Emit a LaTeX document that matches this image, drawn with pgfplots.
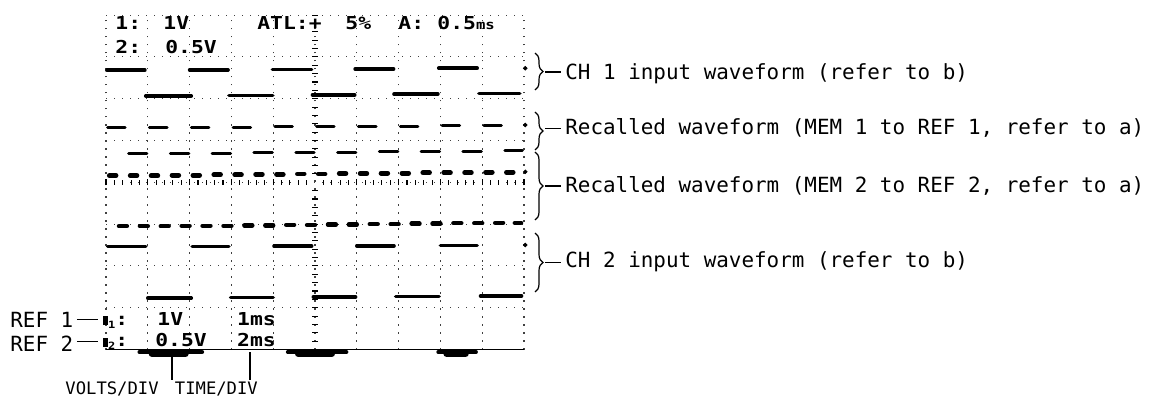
\documentclass[border=0pt]{standalone}
\usepackage{pgfplots}
\pgfplotsset{compat=1.18}
\usepackage{fontspec}
\usetikzlibrary{decorations.pathreplacing}
\newfontfamily\ann{DejaVu Sans Mono}
\newfontfamily\lcd[FakeStretch=1.2]{DejaVu Sans Mono Bold}
\tikzset{
  trace/.style={black, line width=1.8pt, line cap=round, no marks},
  lcdtext/.style={anchor=base west, inner sep=0pt, font=\lcd\fontsize{8.9}{10}\selectfont},
  anntext/.style={anchor=base west, inner sep=0pt, font=\ann\fontsize{10.45}{12}\selectfont},
  smalltext/.style={anchor=base west, inner sep=0pt, font=\ann\fontsize{8.6}{10}\selectfont},
}
\begin{document}
\begin{tikzpicture}
% screen: 10 x 8 divisions, 1 div = 20.9pt
\begin{axis}[
    width=209pt, height=167.2pt, scale only axis,
    xmin=0, xmax=10, ymin=0, ymax=8,
    clip=false,
    axis x line*=bottom, axis y line*=left,
    x axis line style={-, line width=0.9pt},
    y axis line style={draw=none},
    xtick={0,...,10}, ytick={0,...,8},
    xticklabels={}, yticklabels={},
    tick style={draw=none},
    xmajorgrids, ymajorgrids,
    major grid style={black!75, line width=0.55pt, dash pattern=on 0.7pt off 3.3pt},
    unbounded coords=jump,
]
% CH 1 input
\addplot[trace] coordinates {
 (0.02,6.68) (0.93,6.68) (0.93,nan)
 (0.95,6.07) (2.04,6.07) (2.04,nan)
 (2.0,6.69) (2.92,6.69) (2.92,nan)
 (2.94,6.08) (3.99,6.08) (3.99,nan)
 (3.98,6.70) (4.92,6.70) (4.92,nan)
 (4.94,6.09) (5.95,6.09) (5.95,nan)
 (5.96,6.71) (6.88,6.71) (6.88,nan)
 (6.89,6.11) (7.94,6.11) (7.94,nan)
 (7.96,6.73) (8.88,6.73) (8.88,nan)
 (8.92,6.12) (9.9,6.12)
};
% MEM 1 -> REF 1
\addplot[trace, line width=1.5pt] coordinates {
 (0.04,5.31)(0.46,5.31)(0.46,nan)
 (1.04,5.31)(1.46,5.31)(1.46,nan)
 (2.04,5.32)(2.46,5.32)(2.46,nan)
 (3.04,5.32)(3.46,5.32)(3.46,nan)
 (4.04,5.33)(4.46,5.33)(4.46,nan)
 (5.04,5.33)(5.46,5.33)(5.46,nan)
 (6.04,5.34)(6.46,5.34)(6.46,nan)
 (7.04,5.34)(7.46,5.34)(7.46,nan)
 (8.04,5.35)(8.46,5.35)(8.46,nan)
 (9.04,5.35)(9.46,5.35)
};
\addplot[trace, line width=1.5pt] coordinates {
 (0.54,4.69)(0.98,4.69)(0.98,nan)
 (1.54,4.69)(1.98,4.69)(1.98,nan)
 (2.54,4.70)(2.98,4.70)(2.98,nan)
 (3.54,4.71)(3.98,4.71)(3.98,nan)
 (4.54,4.72)(4.98,4.72)(4.98,nan)
 (5.54,4.72)(5.98,4.72)(5.98,nan)
 (6.54,4.73)(6.98,4.73)(6.98,nan)
 (7.54,4.74)(7.98,4.74)(7.98,nan)
 (8.54,4.74)(8.98,4.74)(8.98,nan)
 (9.54,4.75)(9.96,4.75)
};
% MEM 2 -> REF 2
\addplot[trace, line width=2.4pt] coordinates {
 (0.08,4.16)(0.24,4.16)(0.24,nan)
 (0.58,4.16)(0.74,4.16)(0.74,nan)
 (1.08,4.16)(1.24,4.16)(1.24,nan)
 (1.58,4.17)(1.74,4.17)(1.74,nan)
 (2.08,4.17)(2.24,4.17)(2.24,nan)
 (2.58,4.18)(2.74,4.18)(2.74,nan)
 (3.08,4.18)(3.24,4.18)(3.24,nan)
 (3.58,4.19)(3.74,4.19)(3.74,nan)
 (4.08,4.19)(4.24,4.19)(4.24,nan)
 (4.58,4.20)(4.74,4.20)(4.74,nan)
 (5.08,4.20)(5.24,4.20)(5.24,nan)
 (5.58,4.21)(5.74,4.21)(5.74,nan)
 (6.08,4.21)(6.24,4.21)(6.24,nan)
 (6.58,4.22)(6.74,4.22)(6.74,nan)
 (7.08,4.22)(7.24,4.22)(7.24,nan)
 (7.58,4.23)(7.74,4.23)(7.74,nan)
 (8.08,4.23)(8.24,4.23)(8.24,nan)
 (8.58,4.23)(8.74,4.23)(8.74,nan)
 (9.08,4.24)(9.24,4.24)(9.24,nan)
 (9.58,4.24)(9.74,4.24)
};
\addplot[trace, line width=2.2pt] coordinates {
 (0.31,2.95)(0.50,2.95)(0.50,nan)
 (0.81,2.95)(1.00,2.95)(1.00,nan)
 (1.31,2.95)(1.50,2.95)(1.50,nan)
 (1.81,2.96)(2.00,2.96)(2.00,nan)
 (2.31,2.96)(2.50,2.96)(2.50,nan)
 (2.81,2.96)(3.00,2.96)(3.00,nan)
 (3.31,2.97)(3.50,2.97)(3.50,nan)
 (3.81,2.97)(4.00,2.97)(4.00,nan)
 (4.31,2.98)(4.50,2.98)(4.50,nan)
 (4.81,2.98)(5.00,2.98)(5.00,nan)
 (5.31,2.99)(5.50,2.99)(5.50,nan)
 (5.81,2.99)(6.00,2.99)(6.00,nan)
 (6.31,3.00)(6.50,3.00)(6.50,nan)
 (6.81,3.00)(7.00,3.00)(7.00,nan)
 (7.31,3.01)(7.50,3.01)(7.50,nan)
 (7.81,3.01)(8.00,3.01)(8.00,nan)
 (8.31,3.02)(8.50,3.02)(8.50,nan)
 (8.81,3.02)(9.00,3.02)(9.00,nan)
 (9.31,3.03)(9.50,3.03)(9.50,nan)
 (9.78,3.03)(9.93,3.03)
};
% CH 2 input
\addplot[trace] coordinates {
 (0.04,2.46) (0.95,2.46) (0.95,nan)
 (1.0,1.23) (2.04,1.23) (2.04,nan)
 (2.06,2.46) (2.94,2.46) (2.94,nan)
 (2.98,1.24) (4.0,1.24) (4.0,nan)
 (4.02,2.47) (4.92,2.47) (4.92,nan)
 (4.96,1.26) (5.97,1.26) (5.97,nan)
 (6.0,2.48) (6.89,2.48) (6.89,nan)
 (6.93,1.27) (7.97,1.27) (7.97,nan)
 (8.0,2.49) (8.88,2.49) (8.88,nan)
 (8.96,1.28) (9.94,1.28)
};
% end-of-record dots
\addplot[only marks, mark=*, mark size=0.9pt, black] coordinates {
 (10.03,6.73) (10.03,5.37) (10.03,4.25) (10.03,2.50)};
% ground blobs on the bottom line
\addplot[trace, line width=2pt] coordinates {
 (0.8,-0.06) (2.3,-0.06) (2.3,nan)
 (4.35,-0.06) (5.75,-0.06) (5.75,nan)
 (7.95,-0.06) (8.85,-0.06)};
\addplot[trace, line width=3.4pt] coordinates {
 (1.1,-0.1) (1.9,-0.1) (1.9,nan)
 (4.6,-0.1) (5.4,-0.1) (5.4,nan)
 (8.15,-0.1) (8.6,-0.1)};

% screen readouts
\node[lcdtext] at (axis cs:0.215,7.644) {1:};
\node[lcdtext] at (axis cs:1.364,7.644) {1V};
\node[lcdtext] at (axis cs:3.612,7.644) {ATL:+};
\node[lcdtext] at (axis cs:5.718,7.644) {5\%};
\node[lcdtext] at (axis cs:6.986,7.644) {A:};
\node[lcdtext] at (axis cs:7.919,7.644) {0.5{\fontsize{6.5}{7}\selectfont ms}};
\node[lcdtext] at (axis cs:0.215,7.093) {2:};
\node[lcdtext] at (axis cs:1.411,7.093) {0.5V};
\node[lcdtext] at (axis cs:-0.072,0.586) {\rule{2.4pt}{4.5pt}\raisebox{-1.5pt}{\fontsize{5}{5}\selectfont 1}:};
\node[lcdtext] at (axis cs:1.22,0.586) {1V};
\node[lcdtext] at (axis cs:3.13,0.586) {1ms};
\node[lcdtext] at (axis cs:-0.072,0.06) {\rule{2.4pt}{4.5pt}\raisebox{-1.5pt}{\fontsize{5}{5}\selectfont 2}:};
\node[lcdtext] at (axis cs:1.17,0.06) {0.5V};
\node[lcdtext] at (axis cs:3.13,0.06) {2ms};

% left labels
\node[anntext] at (axis cs:-2.297,0.538) {REF 1};
\draw[line width=0.6pt] (axis cs:-0.694,0.72) -- (axis cs:-0.191,0.72);
\node[anntext] at (axis cs:-2.297,-0.036) {REF 2};
\draw[line width=0.6pt] (axis cs:-0.694,0.20) -- (axis cs:-0.191,0.20);

% bottom labels
\draw[line width=0.6pt] (axis cs:1.579,-0.06) -- (axis cs:1.579,-0.74);
\draw[line width=0.6pt] (axis cs:3.445,-0.06) -- (axis cs:3.445,-0.74);
\node[smalltext] at (axis cs:-0.98,-1.075) {VOLTS/DIV};
\node[smalltext] at (axis cs:1.64,-1.075) {TIME/DIV};

% right annotations
\draw[decorate, decoration={brace, amplitude=4pt}, line width=0.6pt]
  (axis cs:10.263,7.093) -- (axis cs:10.263,6.208);
\draw[line width=0.6pt] (axis cs:10.50,6.64) -- (axis cs:10.885,6.64);
\node[anntext] at (axis cs:10.981,6.471) {CH 1 input waveform (refer to b)};
\draw[decorate, decoration={brace, amplitude=4pt}, line width=0.6pt]
  (axis cs:10.263,5.682) -- (axis cs:10.263,4.773);
\draw[line width=0.6pt] (axis cs:10.50,5.28) -- (axis cs:10.885,5.28);
\node[anntext] at (axis cs:10.981,5.132) {Recalled waveform (MEM 1 to REF 1, refer to a)};
\draw[decorate, decoration={brace, amplitude=4pt}, line width=0.6pt]
  (axis cs:10.263,4.725) -- (axis cs:10.263,3.098);
\draw[line width=0.6pt] (axis cs:10.50,3.91) -- (axis cs:10.885,3.91);
\node[anntext] at (axis cs:10.981,3.75) {Recalled waveform (MEM 2 to REF 2, refer to a)};
\draw[decorate, decoration={brace, amplitude=4pt}, line width=0.6pt]
  (axis cs:10.263,2.787) -- (axis cs:10.263,1.376);
\draw[line width=0.6pt] (axis cs:10.50,2.09) -- (axis cs:10.885,2.09);
\node[anntext] at (axis cs:10.981,1.950) {CH 2 input waveform (refer to b)};

\coordinate (bl) at (axis cs:-2.536,-1.160);
\coordinate (tr) at (axis cs:25.215,8.361);
\end{axis}
% graticule centre lines with minor ticks
\begin{axis}[
    width=209pt, height=167.2pt, scale only axis,
    xmin=-5, xmax=5, ymin=-4, ymax=4,
    axis lines=middle, axis line style={draw=none},
    xtick={-5,...,5}, ytick={-4,...,4},
    minor x tick num=4, minor y tick num=4,
    xticklabels={}, yticklabels={},
    tick align=center, major tick length=3pt, minor tick length=2.6pt,
    tick style={black, line width=0.55pt},
]
\end{axis}
\pgfresetboundingbox
\path[use as bounding box] (bl) rectangle (tr);
\end{tikzpicture}
\end{document}
